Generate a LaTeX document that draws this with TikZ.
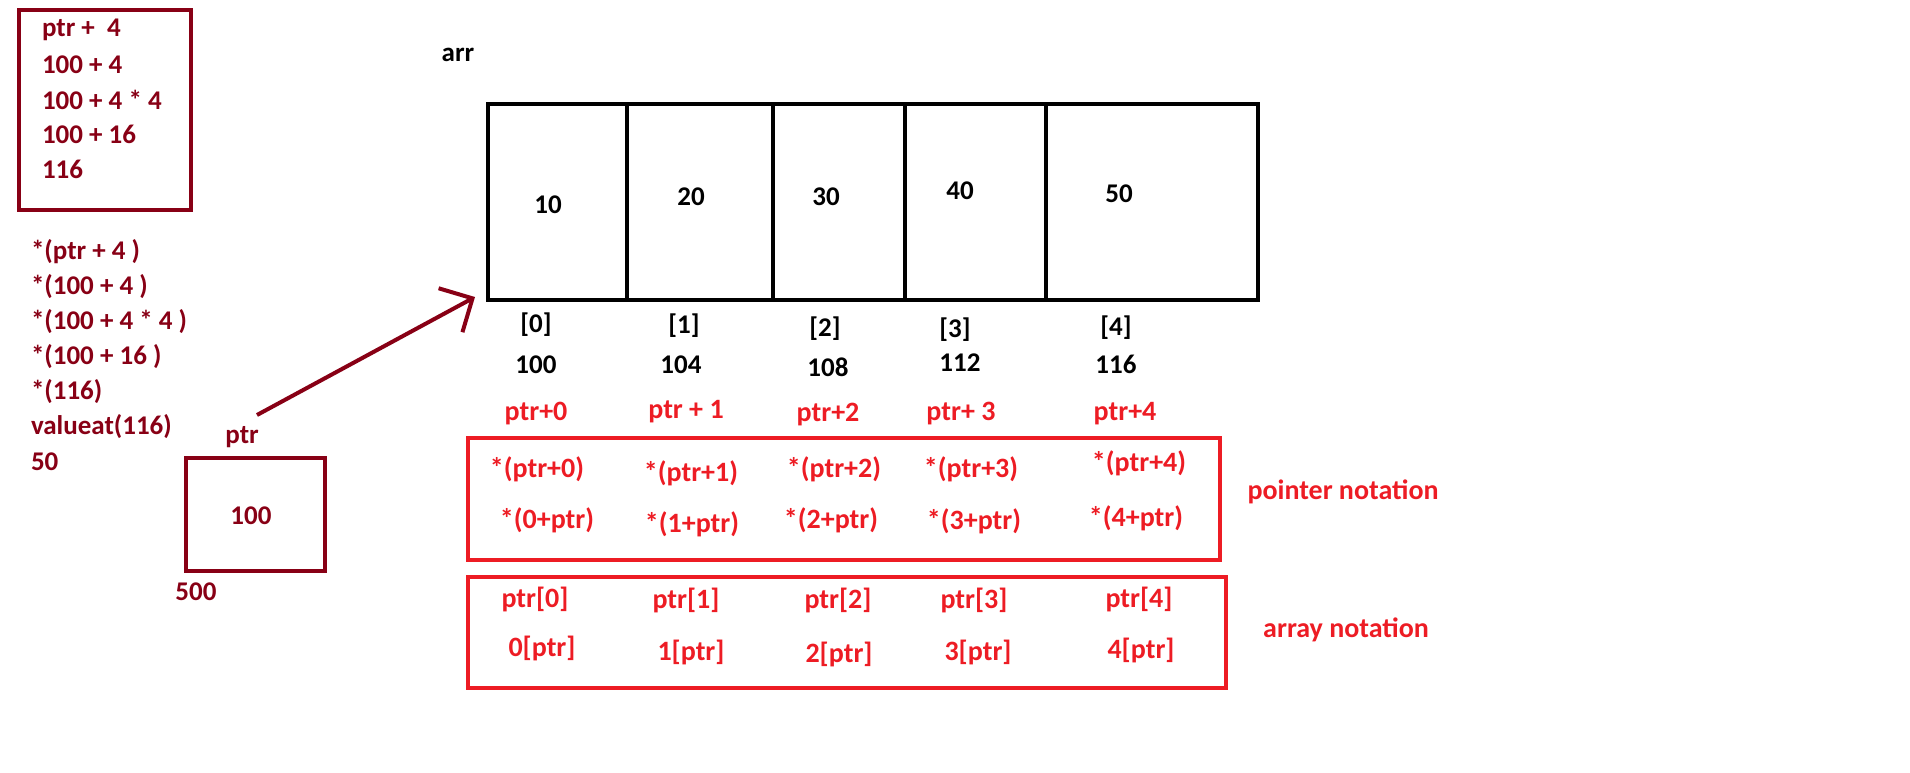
\documentclass[tikz,border=0pt]{standalone}
\usepackage{fontspec}
\setmainfont{Carlito}
\usepackage{xcolor}
\usepackage{tikz}
\usetikzlibrary{arrows.meta,positioning}
\definecolor{darkred}{RGB}{136,0,21}
\definecolor{paintred}{RGB}{237,28,36}

\begin{document}
\begin{tikzpicture}[x=1pt,y=-1pt,line width=4pt,
    every node/.style={inner sep=0pt,font=\bfseries\fontsize{27}{31}\selectfont},
    steptext/.style={text=darkred,anchor=west},
    celltext/.style={text=black},
    redtext/.style={text=paintred,font=\bfseries\fontsize{28}{32}\selectfont}]

    \useasboundingbox (0,0) rectangle (1910,772);

% the working on the left

    \draw[darkred] (19,10) rectangle (191,210);
    \foreach \t [count=\n] in {ptr +\ \ 4, 100 + 4, 100 + 4 * 4, 100 + 16, 116}{
        \node[steptext] (step\n) at (40,{30+34.8*(\n-1)}) {\t};
    }

    \foreach \t [count=\n] in {*(ptr + 4 ), *(100 + 4 ), *(100 + 4 * 4 ), *(100 + 16 ), *(116), valueat(116), 50}{
        \node[steptext] (deref\n) at (29,{252+35*(\n-1)}) {\t};
    }

% the pointer

    \draw[darkred] (186,458) rectangle (325,571);
    \node[text=darkred] (ptrval) at (251,516) {100};
    \node[text=darkred] (ptrname) at (242,437) {ptr};
    \node[text=darkred] (ptraddr) at (196,592) {500};

% the array

    \node[celltext] (arrname) at (458,55) {arr};
    \draw (488,104) rectangle (1258,300);
    \foreach \x in {627,773,905,1046}{
        \draw (\x,104) -- (\x,300);
    }
    \coordinate (ptrtail) at (257,415);
    \coordinate (arrtip) at (475,297);
    \draw[darkred,-{Straight Barb[length=25pt,width=50pt]}] (ptrtail) -- (arrtip);

    \node[celltext] (val1) at (548,205) {10};
    \node[celltext] (val2) at (691,197) {20};
    \node[celltext] (val3) at (826,197) {30};
    \node[celltext] (val4) at (960,191) {40};
    \node[celltext] (val5) at (1119,194) {50};

    \node[celltext] (idx1) at (536,325) {[0]};
    \node[celltext] (idx2) at (684,326) {[1]};
    \node[celltext] (idx3) at (825,329) {[2]};
    \node[celltext] (idx4) at (955,330) {[3]};
    \node[celltext] (idx5) at (1116,328) {[4]};

    \node[celltext] (addr1) at (536,365) {100};
    \node[celltext] (addr2) at (681,365) {104};
    \node[celltext] (addr3) at (828,367) {108};
    \node[celltext] (addr4) at (960,363) {112};
    \node[celltext] (addr5) at (1116,364) {116};

    \node[redtext] (off1) at (536,414) {ptr+0};
    \node[redtext] (off2) at (686,412) {ptr + 1};
    \node[redtext] (off3) at (828,415) {ptr+2};
    \node[redtext] (off4) at (961,414) {ptr+ 3};
    \node[redtext] (off5) at (1125,414) {ptr+4};

% pointer notation

    \draw[paintred] (468,438) rectangle (1220,560);
    \node[redtext] (pn1) at (537,469) {*(ptr+0)};
    \node[redtext] (pn2) at (691,473) {*(ptr+1)};
    \node[redtext] (pn3) at (834,469) {*(ptr+2)};
    \node[redtext] (pn4) at (971,469) {*(ptr+3)};
    \node[redtext] (pn5) at (1139,463) {*(ptr+4)};
    \node[redtext] (pr1) at (547,520) {*(0+ptr)};
    \node[redtext] (pr2) at (692,524) {*(1+ptr)};
    \node[redtext] (pr3) at (831,520) {*(2+ptr)};
    \node[redtext] (pr4) at (974,521) {*(3+ptr)};
    \node[redtext] (pr5) at (1136,518) {*(4+ptr)};
    \node[redtext] (pnlabel) at (1343,492) {pointer notation};

% array notation

    \draw[paintred] (468,577) rectangle (1226,688);
    \node[redtext] (an1) at (535,599) {ptr[0]};
    \node[redtext] (an2) at (686,600) {ptr[1]};
    \node[redtext] (an3) at (838,600) {ptr[2]};
    \node[redtext] (an4) at (974,600) {ptr[3]};
    \node[redtext] (an5) at (1139,599) {ptr[4]};
    \node[redtext] (ar1) at (542,648) {0[ptr]};
    \node[redtext] (ar2) at (691,652) {1[ptr]};
    \node[redtext] (ar3) at (839,654) {2[ptr]};
    \node[redtext] (ar4) at (978,652) {3[ptr]};
    \node[redtext] (ar5) at (1141,650) {4[ptr]};
    \node[redtext] (anlabel) at (1346,630) {array notation};

\end{tikzpicture}
\end{document}
